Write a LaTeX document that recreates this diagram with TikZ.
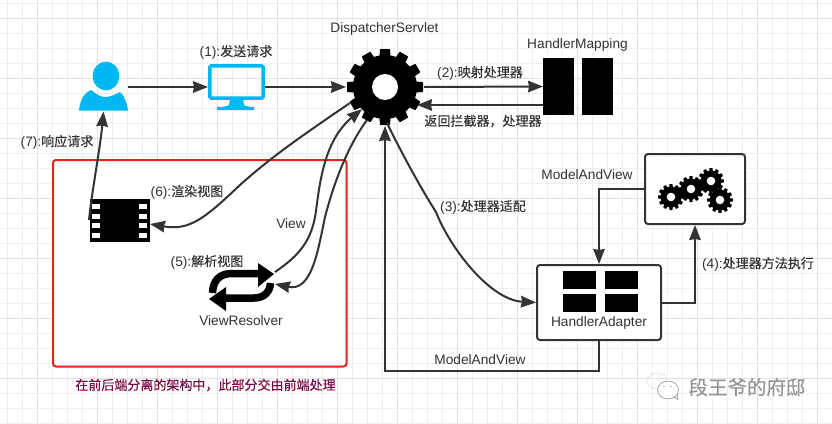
\documentclass[tikz,border=0pt]{standalone}
\usepackage{fontspec}
\setmainfont{Liberation Sans}
\newfontfamily\cjk[Scale=0.95,FakeBold=0.2]{Noto Sans CJK SC}
\usetikzlibrary{arrows.meta}
\definecolor{inkgrey}{HTML}{333333}
\definecolor{skyblue}{HTML}{00B8F1}
\definecolor{framered}{HTML}{E3241B}
\definecolor{plum}{HTML}{7A0A46}
\definecolor{gridminor}{HTML}{EFEFEF}
\definecolor{gridmajor}{HTML}{E2E2E2}
\tikzset{
  slot/.style={inner sep=0pt,outer sep=0pt},
  lbl/.style={inner sep=0pt,text=inkgrey,font=\fontsize{13.7}{16}\selectfont},
  link/.style={draw=inkgrey,line width=2pt,-{Stealth[length=15pt,width=11.5pt,inset=1pt]}},
  iconbox/.style={draw=inkgrey,line width=2pt,fill=white,rounded corners=3pt}
}
% gear: x, y, hub radius, tip radius, hole radius, tooth half width, step
\newcommand{\gearicon}[7]{
  \begin{scope}[shift={(#1,#2)}]
    \fill[black] (0,0) circle[radius=#3pt];
    \foreach \a in {0,#7,...,359}
      \fill[black,rotate=\a,rounded corners=0.6pt] (-#6,#3-1) -- (-#6*0.9,#4) -- (#6*0.9,#4) -- (#6,#3-1) -- cycle;
    \fill[white] (0,0) circle[radius=#5pt];
  \end{scope}
}
\begin{document}
\begin{tikzpicture}[x=1pt,y=-1pt]
  \useasboundingbox (0,0) rectangle (832,423);
  \fill[white] (0,0) rectangle (832,423);

  % Grid
  \foreach \gx in {7,22,...,832}
    \draw[gridminor,line width=0.8pt] (\gx,0) -- (\gx,423);
  \foreach \gy in {3,18,...,423}
    \draw[gridminor,line width=0.8pt] (0,\gy) -- (832,\gy);
  \foreach \gx in {37,97,...,832}
    \draw[gridmajor,line width=0.8pt] (\gx,0) -- (\gx,423);
  \foreach \gy in {18,78,...,423}
    \draw[gridmajor,line width=0.8pt] (0,\gy) -- (832,\gy);

  % Frontend frame
  \draw[framered,line width=2pt,fill=white,rounded corners=3pt] (53,160) rectangle (346.5,366.5);

  % Anchors of the icons
  \node[slot,minimum width=49pt,minimum height=49pt] (user) at (103.5,87) {};
  \node[slot,minimum width=57pt,minimum height=46pt] (monitor) at (236.5,87) {};
  \node[slot,circle,minimum size=78pt] (dispatcher) at (385,87) {};
  \node[slot,minimum width=70pt,minimum height=57pt] (mapping) at (578,86.5) {};
  \node[slot,minimum width=60.5pt,minimum height=43pt] (film) at (119.75,220.5) {};
  \node[iconbox,minimum width=100pt,minimum height=70pt] (workers) at (695,189) {};
  \node[iconbox,minimum width=124pt,minimum height=75pt] (adapter) at (599,302.5) {};
  \coordinate (viewout) at (275,272);
  \coordinate (viewin) at (275,284);
  \coordinate (gearviewin) at (362,109);
  \coordinate (gearviewout) at (367,120);
  \coordinate (gearfilm) at (350,103);
  \coordinate (gearadapter) at (387,123);
  \coordinate (filmout) at (89,220);
  \coordinate (filmin) at (150,224);
  \coordinate (mapfrom) at (543,105);
  \coordinate (mapto) at (417,105);

  % Person
  \fill[skyblue] (106,76) ellipse[x radius=13.3pt,y radius=14.3pt];
  \fill[skyblue] (79,110.5) .. controls (80,100) and (84,93) .. (91,90) .. controls (97,95) and (101,97) .. (105,97) .. controls (110,97) and (114,95) .. (120,92) .. controls (124,95) and (127,103) .. (128,110.5) -- cycle;

  % Monitor
  \draw[skyblue,line width=3.5pt,rounded corners=1.5pt] (209.8,65.8) rectangle (263.2,98.2);
  \fill[skyblue] (230,99) -- (243,99) -- (244,105) .. controls (246,106.5) and (250,107) .. (254,107) -- (254,110) -- (217,110) -- (217,107) .. controls (222,107) and (227,106.5) .. (229,105) -- cycle;

  % Gears
  \gearicon{385}{87}{32}{38}{13}{5.5}{30}
  \gearicon{671}{197}{10.5}{13}{4.3}{1.8}{30}
  \gearicon{691}{189}{10.5}{13}{4.3}{1.8}{30}
  \gearicon{711}{181}{10.5}{13}{4.3}{1.8}{30}
  \gearicon{720}{200}{10.5}{13}{4.3}{1.8}{30}

  % Mapping bars
  \fill[black] (543.3,58) rectangle (574,115);
  \fill[black] (582,58) rectangle (613,115);

  % Adapter panes
  \fill[black] (563,271) rectangle (596,289);
  \fill[black] (605,271) rectangle (638,289);
  \fill[black] (563,294) rectangle (596,312);
  \fill[black] (605,294) rectangle (638,312);

  % Film strip
  \fill[black] (89.5,199) rectangle (150,242);
  \foreach \hy in {204,213.7,223.2,232.7} {
    \fill[white] (92,\hy) rectangle (100,\hy+5);
    \fill[white] (139,\hy) rectangle (147,\hy+5);
  }

  % Resolver loop
  \draw[black,line width=7.5pt] (212.5,293) .. controls (213,280) and (220,273.5) .. (232,273.5) -- (259,273.5);
  \fill[black] (258,263) -- (274,274) -- (258,287) -- cycle;
  \draw[black,line width=7.5pt] (270.5,283) .. controls (270,291) and (265,298) .. (254,298) -- (225,298);
  \fill[black] (226,287) -- (209,299) -- (226,311) -- cycle;

  % Connectors
  \draw[link] (user.east) -- (monitor.west);
  \draw[link] (monitor.east) -- (dispatcher.west);
  \draw[link] (dispatcher.east) -- (mapping.west);
  \draw[link] (mapfrom) -- (mapto);
  \draw[link] (gearadapter) .. controls (405,160) and (425,195) .. (436,212) .. controls (450,248) and (490,300) .. (adapter.west);
  \draw[link] (adapter.east) -- (695,302.5) -- (workers.south);
  \draw[link] (workers.west) -- (599,189) -- (adapter.north);
  \draw[link] (adapter.south) -- (599,370.5) -- (385,370.5) -- (dispatcher.south);
  \draw[link] (viewout) .. controls (300,255) and (312,240) .. (316,211) .. controls (320,180) and (325,140) .. (gearviewin);
  \draw[link] (gearviewout) .. controls (345,150) and (332,190) .. (325,217) .. controls (318,250) and (312,292) .. (viewin);
  \draw[link] (gearfilm) .. controls (300,137) and (270,158) .. (240,185) .. controls (205,218) and (190,231) .. (filmin);
  \draw[link] (filmout) .. controls (92,190) and (100,150) .. (user.south);

  % Labels
  \node[lbl] (lblservlet) at (384.5,29) {DispatcherServlet};
  \node[lbl] (lblmapping) at (577.5,45) {HandlerMapping};
  \node[lbl] (lblstepone) at (236,52) {(1):{\cjk 发送请求}};
  \node[lbl] (lblsteptwo) at (480,73) {(2):{\cjk 映射处理器}};
  \node[lbl] (lblreturn) at (483,121) {\cjk 返回拦截器，处理器};
  \node[lbl] (lblmav) at (587,175) {ModelAndView};
  \node[lbl] (lblstepthree) at (483,207) {(3):{\cjk 处理器适配}};
  \node[lbl] (lblstepfour) at (758,264) {(4):{\cjk 处理器方法执行}};
  \node[lbl] (lbladapter) at (599,323) {HandlerAdapter};
  \node[lbl] (lblmavback) at (480,360) {ModelAndView};
  \node[lbl] (lblstepseven) at (57,142) {(7):{\cjk 响应请求}};
  \node[lbl] (lblstepsix) at (187,192) {(6):{\cjk 渲染视图}};
  \node[lbl] (lblview) at (291,224) {View};
  \node[lbl] (lblstepfive) at (207,262) {(5):{\cjk 解析视图}};
  \node[lbl] (lblresolver) at (241,321) {ViewResolver};
  \node[lbl,text=plum] (lblfrontend) at (205.5,385) {\cjk 在前后端分离的架构中，此部分交由前端处理};

  % Watermark
  \draw[gray!70,line width=0.5pt,densely dotted] (657,381) ellipse[x radius=10pt,y radius=8pt];
  \draw[gray,line width=0.5pt,fill=white] (668,390) ellipse[x radius=10.5pt,y radius=9pt];
  \draw[gray,line width=0.5pt] (674,397) -- (678,399.5) -- (677,394);
  \fill[gray] (664,386.5) circle[radius=0.7pt] (671,386.5) circle[radius=0.7pt];
  \node[inner sep=0pt,text=white,font=\fontsize{20.5}{24}\selectfont] (markshadow) at (747.8,388) {\cjk 段王爷的府邸};
  \node[inner sep=0pt,text=black!42,font=\fontsize{20.5}{24}\selectfont] (mark) at (747,387.2) {\cjk 段王爷的府邸};
\end{tikzpicture}
\end{document}
